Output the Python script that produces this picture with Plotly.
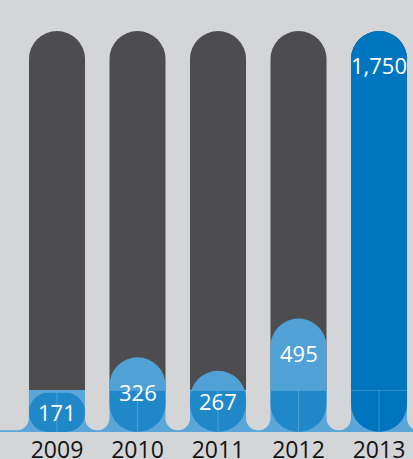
import plotly.graph_objects as go

# ---- data ----
years = ["2009", "2010", "2011", "2012", "2013"]
values = [171, 326, 267, 495, 1750]
value_labels = ["171", "326", "267", "495", "1,750"]
max_value = 1750

# ---- styles ----
BG = "#d4d5d7"
PILLAR = "#4d4d4f"
BAND = "#5aa6d9"
PILL_LOW = ["#2088c9", "#2088c9", "#2088c9", "#2088c9", "#0075bf"]
PILL_HIGH = ["#4fa1d6", "#4fa1d6", "#4fa1d6", "#4fa1d6", "#0075bf"]
PX_PER_UNIT = 401 / 1750          # vertical scale of the chart
PLOT_H = 432                       # plot area height in pixels
Y_MAX = PLOT_H / PX_PER_UNIT       # top of plot area in value units
BAND_TOP = 42 / PX_PER_UNIT        # light band height (42 px) in value units
SPLIT = BAND_TOP / Y_MAX
BAR_W = 0.696
GAP_W = 1 - BAR_W
FONT = "Open Sans"

x = list(range(len(years)))
fig = go.Figure()

# light blue base band (lower subplot)
fig.add_shape(type="rect", xref="paper", yref="y", x0=0, x1=1, y0=0, y1=BAND_TOP,
              fillcolor=BAND, line_width=0, layer="below")

# ---- upper part (above the band) ----
fig.add_bar(x=x, y=[max_value] * len(x), base=0, width=BAR_W, yaxis="y2",
            marker=dict(color=PILLAR, cornerradius="50%", line_width=0), hoverinfo="skip")
fig.add_bar(x=x, y=values, base=0, width=BAR_W, yaxis="y2",
            marker=dict(color=PILL_HIGH, cornerradius="50%", line_width=0), hoverinfo="skip")

# ---- lower part (inside the band) ----
TOP = BAND_TOP + 200
gx = [-0.8] + [i + 0.5 for i in x]
gw = [0.9] + [GAP_W] * len(x)
fig.add_bar(x=gx, y=[-(TOP - 8)] * len(gx), base=TOP, width=gw, yaxis="y",
            marker=dict(color=BG, cornerradius=12, line_width=0), hoverinfo="skip")
fig.add_bar(x=x, y=values, base=0, width=BAR_W, yaxis="y",
            marker=dict(color=PILL_LOW, cornerradius="50%", line_width=0), hoverinfo="skip")

# thin decorative lines inside the band
lx, ly = [], []
for i, v in enumerate(values):
    lx += [i, i, None]
    ly += [0, min(v, BAND_TOP), None]
    if v > BAND_TOP:
        lx += [i - BAR_W / 2, i + BAR_W / 2, None]
        ly += [BAND_TOP - 2, BAND_TOP - 2, None]
fig.add_scatter(x=lx, y=ly, mode="lines", yaxis="y",
                line=dict(color="rgba(255,255,255,0.2)", width=1), hoverinfo="skip")

# value labels
for i, (v, lab) in enumerate(zip(values, value_labels)):
    pos = max(v - 150, v / 2)
    fig.add_annotation(x=i, y=pos, xref="x", yref="y" if pos < BAND_TOP else "y2",
                       text=lab, showarrow=False,
                       font=dict(color="white", size=22, family=FONT))

fig.update_layout(
    width=413, height=459,
    margin=dict(l=0, r=0, t=0, b=459 - PLOT_H, autoexpand=False),
    paper_bgcolor=BG, plot_bgcolor=BG,
    barmode="overlay", showlegend=False,
    xaxis=dict(range=[-57 / 80.5, (413 - 57) / 80.5], tickmode="array", tickvals=x,
               ticktext=years, showgrid=False, zeroline=False, showline=False, ticks="",
               tickfont=dict(size=23, color="#141414", family=FONT),
               ticklabelstandoff=2, fixedrange=True, anchor="y", automargin=False),
    yaxis=dict(domain=[0, SPLIT], range=[0, BAND_TOP], visible=False, showgrid=False,
               zeroline=False, fixedrange=True, automargin=False),
    yaxis2=dict(domain=[SPLIT, 1], range=[BAND_TOP, Y_MAX], visible=False, showgrid=False,
                zeroline=False, fixedrange=True, anchor="x", automargin=False),
)

fig.write_html("out.html", config={"displayModeBar": False})
